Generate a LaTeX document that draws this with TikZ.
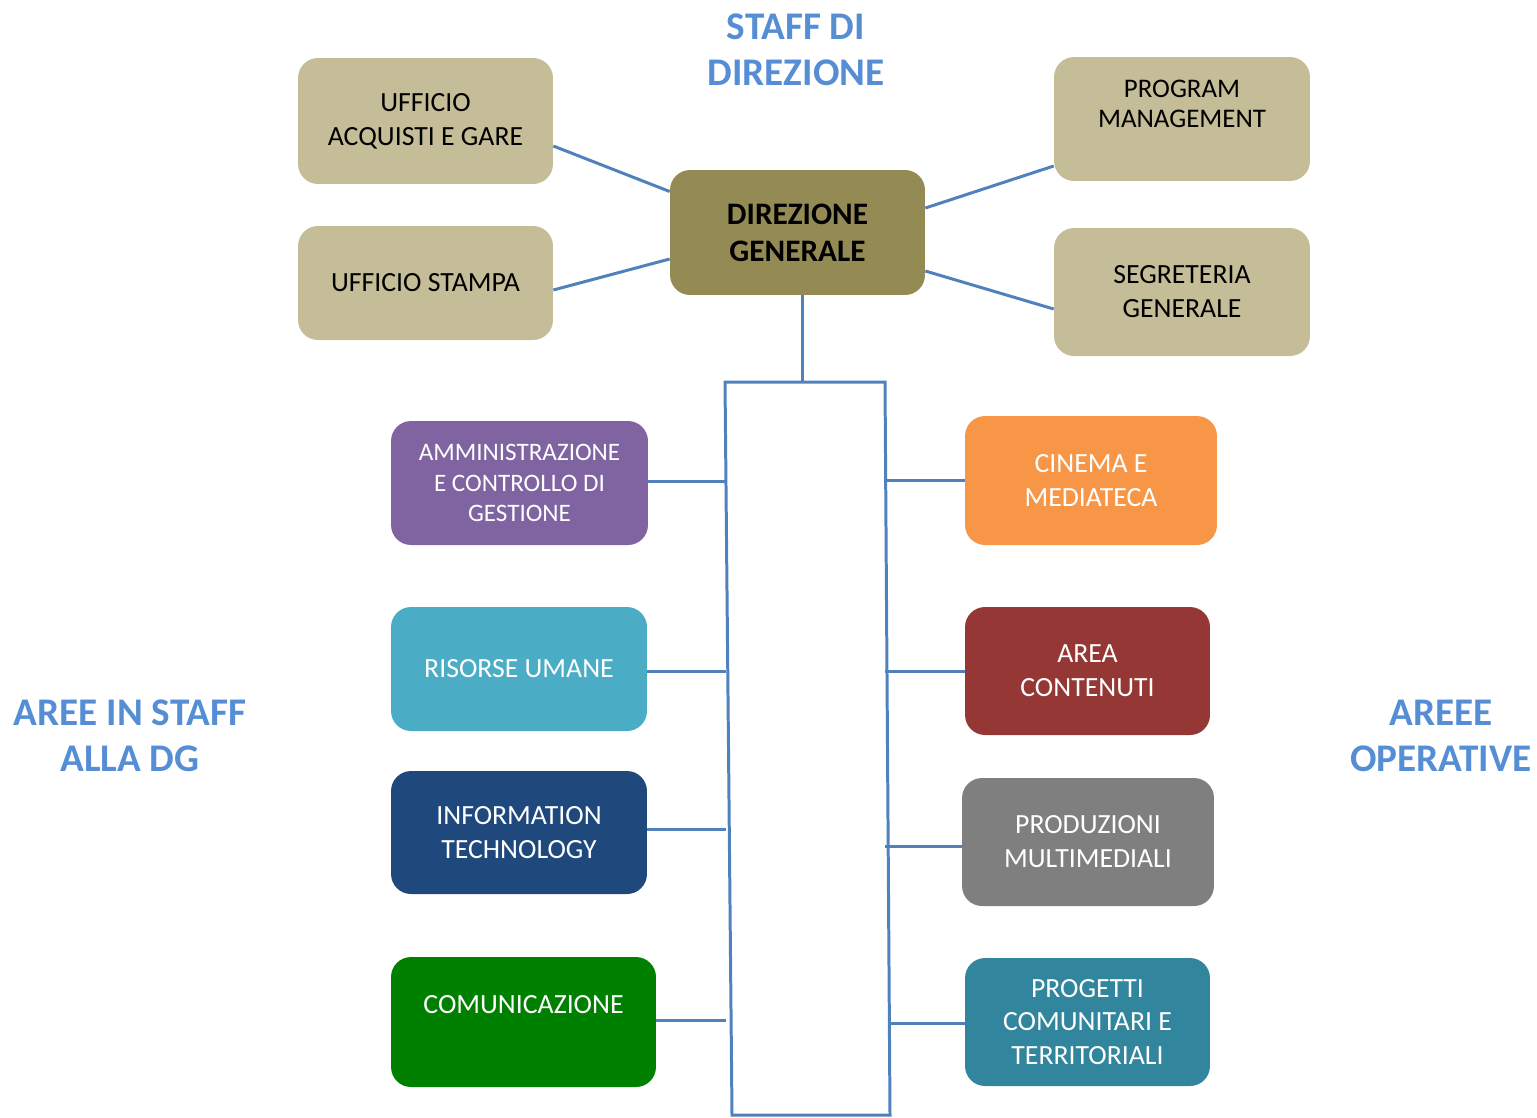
\documentclass[tikz,border=0pt]{standalone}
\usepackage{fontspec}
\setmainfont{Carlito}
\usepackage{tikz}
\usetikzlibrary{positioning}
\definecolor{staffc}{HTML}{C4BD97}
\definecolor{dgc}{HTML}{948A54}
\definecolor{linec}{HTML}{4F81BD}
\definecolor{titlec}{HTML}{558ED5}
\definecolor{ammc}{HTML}{8064A2}
\definecolor{risc}{HTML}{4BACC6}
\definecolor{itc}{HTML}{1F497D}
\definecolor{comc}{HTML}{008000}
\definecolor{cinc}{HTML}{F79646}
\definecolor{areac}{HTML}{953735}
\definecolor{prodc}{HTML}{7F7F7F}
\definecolor{progc}{HTML}{31859C}
\tikzset{
    every node/.style={font=\fontsize{15.8}{19.3}\selectfont},
    box/.style={rounded corners=0.4cm,align=center,inner sep=2pt},
    staff box/.style={box,fill=staffc,text=black},
    area box/.style={box,fill=#1,text=white},
    title/.style={font=\fontsize{22.3}{26.2}\selectfont\bfseries,text=titlec,align=center},
    link/.style={draw=linec,line width=1.7pt}
}

\begin{document}
\begin{tikzpicture}[x=0.02cm,y=-0.02cm]
    \useasboundingbox (0,0) rectangle (1537,1117);

    \node[title] (t1) at (796,50) {STAFF DI\\DIREZIONE};
    \node[title] (t2) at (130,736) {AREE IN STAFF\\ALLA DG};
    \node[title] (t3) at (1441,736) {AREEE\\OPERATIVE};

    \node[box,fill=dgc,minimum width=5.1cm,minimum height=2.5cm,font=\fontsize{17.8}{21}\selectfont\bfseries] (dg) at (797.5,232.5) {DIREZIONE\\GENERALE};
    \node[staff box,minimum width=5.1cm,minimum height=2.52cm] (acq) at (425.5,121) {UFFICIO\\ACQUISTI E GARE};
    \node[staff box,minimum width=5.1cm,minimum height=2.28cm] (stampa) at (425.5,283) {UFFICIO STAMPA};
    \node[staff box,minimum width=5.12cm,minimum height=2.48cm,text depth=0.6cm,font=\fontsize{15.3}{17.2}\selectfont] (pm) at (1182,119) {PROGRAM\\MANAGEMENT};
    \node[staff box,minimum width=5.12cm,minimum height=2.56cm] (segr) at (1182,292) {SEGRETERIA\\GENERALE};

    \node[area box=ammc,minimum width=5.14cm,minimum height=2.48cm,font=\fontsize{14.3}{17.4}\selectfont] (amm) at (519.5,483) {AMMINISTRAZIONE\\E CONTROLLO DI\\GESTIONE};
    \node[area box=risc,minimum width=5.12cm,minimum height=2.48cm] (ris) at (519,669) {RISORSE UMANE};
    \node[area box=itc,minimum width=5.12cm,minimum height=2.46cm] (it) at (519,832.5) {INFORMATION\\TECHNOLOGY};
    \node[area box=comc,minimum width=5.3cm,minimum height=2.6cm,text depth=0.7cm] (com) at (523.5,1022) {COMUNICAZIONE};

    \node[area box=cinc,minimum width=5.04cm,minimum height=2.58cm] (cin) at (1091,480.5) {CINEMA E\\MEDIATECA};
    \node[area box=areac,minimum width=4.9cm,minimum height=2.56cm] (area) at (1087.5,671) {AREA\\CONTENUTI};
    \node[area box=prodc,minimum width=5.04cm,minimum height=2.56cm] (prod) at (1088,842) {PRODUZIONI\\MULTIMEDIALI};
    \node[area box=progc,minimum width=4.9cm,minimum height=2.56cm] (prog) at (1087.5,1022) {PROGETTI\\COMUNITARI E\\TERRITORIALI};

    \coordinate (ctl) at (725,382);
    \coordinate (ctr) at (885,382);
    \coordinate (cbr) at (890,1115);
    \coordinate (cbl) at (732,1115);
    \coordinate (ctop) at (802,382);
    \coordinate (lx) at (726,0);
    \coordinate (rx) at (885,0);
    \coordinate (rxb) at (890,0);

    \draw[link] (ctl) -- (ctr) -- (cbr) -- (cbl) -- cycle;
    \draw[link] (dg.south -| ctop) -- (ctop);

    \draw[link] ([yshift=-0.5cm]acq.east) -- ([yshift=0.82cm]dg.west);
    \draw[link] ([yshift=-0.14cm]stampa.east) -- ([yshift=-0.53cm]dg.west);
    \draw[link] ([yshift=-0.94cm]pm.west) -- ([yshift=0.49cm]dg.east);
    \draw[link] ([yshift=-0.34cm]segr.west) -- ([yshift=-0.77cm]dg.east);

    \draw[link] ([yshift=0.04cm]amm.east) -- ([yshift=0.04cm]amm.east -| lx);
    \draw[link] ([yshift=-0.04cm]ris.east) -- ([yshift=-0.04cm]ris.east -| lx);
    \draw[link] ([yshift=0.07cm]it.east) -- ([yshift=0.07cm]it.east -| lx);
    \draw[link] ([yshift=0.04cm]com.east) -- ([yshift=0.04cm]com.east -| lx);

    \draw[link] (cin.west) -- (cin.west -| rx);
    \draw[link] (area.west) -- (area.west -| rx);
    \draw[link] ([yshift=-0.08cm]prod.west) -- ([yshift=-0.08cm]prod.west -| rx);
    \draw[link] ([yshift=-0.02cm]prog.west) -- ([yshift=-0.02cm]prog.west -| rxb);
\end{tikzpicture}
\end{document}
